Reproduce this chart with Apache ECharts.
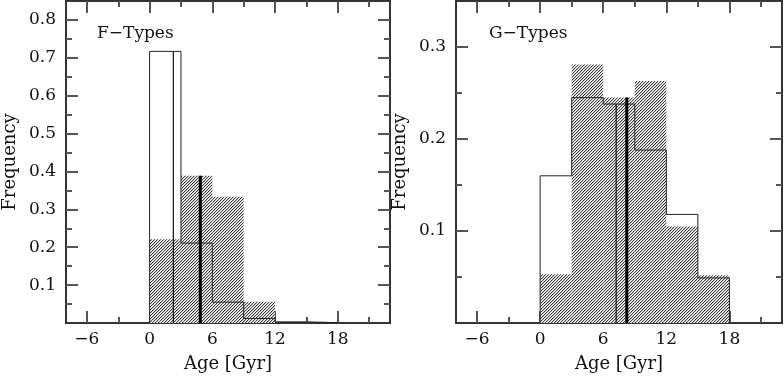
<!DOCTYPE html>
<html>
<head>
<meta charset="utf-8">
<script src="https://cdn.jsdelivr.net/npm/echarts@6/dist/echarts.min.js"></script>
<style>
html, body { margin: 0; padding: 0; background: #fff; }
#container { width: 784px; height: 378px; }
</style>
</head>
<body>
<div id="container"></div>
<script>
// age bins [Gyr]
var binEdges = [0, 3, 6, 9, 12, 15, 18]

// F-types: open outline and hatched histogram
var fOpen = [0.717, 0.211, 0.055, 0.012, 0.003, 0.001]
var fHatch = [0.221, 0.389, 0.333, 0.056, 0, 0]
// G-types
var gOpen = [0.160, 0.245, 0.238, 0.188, 0.118, 0.049]
var gHatch = [0.053, 0.281, 0.245, 0.263, 0.105, 0.052]

// median lines [age, height]
var fMedOpen = [2.27, 0.717]
var fMedHatch = [4.85, 0.389]
var gMedOpen = [7.23, 0.238]
var gMedHatch = [8.24, 0.245]

// ticks
var xMajor = [-6, 0, 6, 12, 18]
var xMinor = [-3, 3, 9, 15, 21]
var yMajorF = [0.1, 0.2, 0.3, 0.4, 0.5, 0.6, 0.7, 0.8]
var yMinorF = [0.05, 0.15, 0.25, 0.35, 0.45, 0.55, 0.65, 0.75]
var yMajorG = [0.1, 0.2, 0.3]
var yMinorG = [0.05, 0.15, 0.25]

var font = '"DejaVu Serif", "Liberation Serif", serif'
var frameColor = '#333'
var tickColor = '#555'

// diagonal hatch pattern
var hatch = document.createElement('canvas')
hatch.width = 6
hatch.height = 6
var hctx = hatch.getContext('2d')
hctx.fillStyle = '#fff'
hctx.fillRect(0, 0, 6, 6)
for (var px = 0; px < 6; px++) {
    for (var py = 0; py < 6; py++) {
        var k = (px + py) % 3
        if (k == 0) hctx.fillStyle = '#3a3a3a'
        else if (k == 1) hctx.fillStyle = '#c8c8c8'
        else continue
        hctx.fillRect(px, py, 1, 1)
    }
}
var hatchFill = { image: hatch, repetition: 'repeat' }

function stepLine(h) {
    var d = [[binEdges[0], 0]]
    for (var i = 0; i < h.length; i++) {
        d.push([binEdges[i], h[i]])
        d.push([binEdges[i + 1], h[i]])
    }
    d.push([binEdges[h.length], 0])
    return d
}

function bars(h) {
    return h.map(function (v, i) { return [binEdges[i], binEdges[i + 1], v] })
}

function renderBar(params, api) {
    var p0 = api.coord([api.value(0), api.value(2)])
    var p1 = api.coord([api.value(1), 0])
    return {
        type: 'rect',
        shape: { x: p0[0], y: p0[1], width: p1[0] - p0[0], height: p1[1] - p0[1] },
        style: { fill: hatchFill }
    }
}

function xa(gi, pos, ticks, len, withLabel, line) {
    return {
        gridIndex: gi, type: 'value', position: pos, min: -8, max: 23,
        axisLine: { show: line, onZero: false, lineStyle: { color: frameColor, width: 2 } },
        axisTick: { show: true, inside: true, length: len, customValues: ticks, lineStyle: { color: tickColor, width: 2 } },
        splitLine: { show: false },
        axisLabel: {
            show: withLabel, customValues: xMajor, margin: 8, color: '#111',
            fontFamily: font, fontSize: 17,
            formatter: function (v) { return String(v).replace('-', '\u2212') }
        },
        name: withLabel ? 'Age [Gyr]' : '', nameLocation: 'middle', nameGap: 32,
        nameTextStyle: { color: '#111', fontFamily: font, fontSize: 18 }
    }
}

function ya(gi, pos, max, ticks, labels, len, withLabel, line) {
    return {
        gridIndex: gi, type: 'value', position: pos, min: 0, max: max,
        axisLine: { show: line, onZero: false, lineStyle: { color: frameColor, width: 2 } },
        axisTick: { show: true, inside: true, length: len, customValues: ticks, lineStyle: { color: tickColor, width: 2 } },
        splitLine: { show: false },
        axisLabel: {
            show: withLabel, customValues: labels, margin: 10, color: '#111',
            fontFamily: font, fontSize: 17,
            formatter: function (v) { return v.toFixed(1) }
        },
        name: withLabel ? 'Frequency' : '', nameLocation: 'middle', nameGap: 47,
        nameTextStyle: { color: '#111', fontFamily: font, fontSize: 18 }
    }
}

function panelSeries(xi, yi, open, hatched, medOpen, medHatch) {
    return [
        {
            type: 'custom', xAxisIndex: xi, yAxisIndex: yi,
            renderItem: renderBar, data: bars(hatched), silent: true
        },
        {
            type: 'line', xAxisIndex: xi, yAxisIndex: yi, data: stepLine(open),
            showSymbol: false, silent: true, z: 3,
            lineStyle: { color: '#222', width: 1 }
        },
        {
            type: 'line', xAxisIndex: xi, yAxisIndex: yi, data: [[medOpen[0], 0], [medOpen[0], medOpen[1]]],
            showSymbol: false, silent: true, z: 4,
            lineStyle: { color: '#111', width: 1.2 }
        },
        {
            type: 'line', xAxisIndex: xi, yAxisIndex: yi, data: [[medHatch[0], 0], [medHatch[0], medHatch[1]]],
            showSymbol: false, silent: true, z: 4,
            lineStyle: { color: '#000', width: 3 }
        }
    ]
}

var myChart = echarts.init(document.getElementById('container'), null, { renderer: 'canvas' })
myChart.setOption({
    animation: false,
    backgroundColor: '#fff',
    textStyle: { fontFamily: font },
    title: [
        { text: 'F\u2212Types', left: 97, top: 25, padding: 0, textStyle: { fontFamily: font, fontSize: 17, fontWeight: 'normal', color: '#111' } },
        { text: 'G\u2212Types', left: 489, top: 25, padding: 0, textStyle: { fontFamily: font, fontSize: 17, fontWeight: 'normal', color: '#111' } }
    ],
    grid: [
        { left: 64, top: 1, right: 394, bottom: 52 },
        { left: 456, top: 1, right: 2, bottom: 52 }
    ],
    xAxis: [
        xa(0, 'bottom', xMajor, 12, true, true),
        xa(0, 'bottom', xMinor, 6, false, false),
        xa(0, 'top', xMajor, 12, false, true),
        xa(0, 'top', xMinor, 6, false, false),
        xa(1, 'bottom', xMajor, 12, true, true),
        xa(1, 'bottom', xMinor, 6, false, false),
        xa(1, 'top', xMajor, 12, false, true),
        xa(1, 'top', xMinor, 6, false, false)
    ],
    yAxis: [
        ya(0, 'left', 0.85, yMajorF, yMajorF, 12, true, true),
        ya(0, 'left', 0.85, yMinorF, yMajorF, 6, false, false),
        ya(0, 'right', 0.85, yMajorF, yMajorF, 12, false, true),
        ya(0, 'right', 0.85, yMinorF, yMajorF, 6, false, false),
        ya(1, 'left', 0.35, yMajorG, yMajorG, 12, true, true),
        ya(1, 'left', 0.35, yMinorG, yMajorG, 6, false, false),
        ya(1, 'right', 0.35, yMajorG, yMajorG, 12, false, true),
        ya(1, 'right', 0.35, yMinorG, yMajorG, 6, false, false)
    ],
    series: panelSeries(0, 0, fOpen, fHatch, fMedOpen, fMedHatch)
        .concat(panelSeries(4, 4, gOpen, gHatch, gMedOpen, gMedHatch))
})
</script>
</body>
</html>
